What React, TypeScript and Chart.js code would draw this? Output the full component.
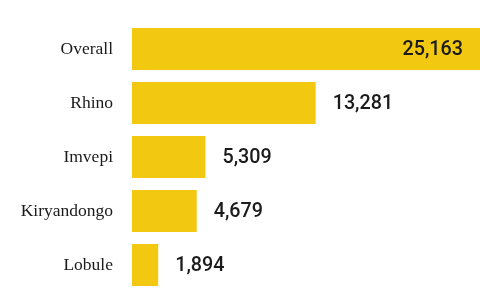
import React, { useEffect, useRef } from "react";
import { Chart, registerables } from "chart.js";

Chart.register(...registerables);

const categories = ["Overall", "Rhino", "Imvepi", "Kiryandongo", "Lobule"];
const values = [25163, 13281, 5309, 4679, 1894];
const barColor = "#F2C811";

const valueLabels = {
  id: "valueLabels",
  afterDatasetsDraw(chart: any) {
    const ctx = chart.ctx;
    const meta = chart.getDatasetMeta(0);
    const area = chart.chartArea;
    const sx = 0.94;
    ctx.save();
    ctx.font = "500 21px Roboto";
    ctx.fillStyle = "#1b1b1b";
    ctx.textBaseline = "middle";
    meta.data.forEach((bar: any, i: number) => {
      const txt = values[i].toLocaleString("en-US");
      const w = ctx.measureText(txt).width * sx;
      let x0: number;
      if (bar.x + 17 + w > area.right) {
        x0 = bar.x - 17 - w;
      } else {
        x0 = bar.x + 17;
      }
      ctx.save();
      ctx.translate(x0, bar.y + 1);
      ctx.scale(sx, 1);
      ctx.textAlign = "left";
      ctx.fillText(txt, 0, 0);
      ctx.restore();
    });
    ctx.restore();
  },
};

export default function App() {
  const ref = useRef<HTMLCanvasElement>(null);
  useEffect(() => {
    document.body.style.margin = "0";
    const chart = new Chart(ref.current!, {
      type: "bar",
      data: {
        labels: categories,
        datasets: [
          {
            data: values,
            backgroundColor: barColor,
            barPercentage: 0.78,
            categoryPercentage: 1,
          },
        ],
      },
      options: {
        indexAxis: "y",
        animation: false,
        responsive: false,
        layout: { padding: { top: 22, bottom: 9, left: 0, right: 0 } },
        plugins: { legend: { display: false }, tooltip: { enabled: false } },
        scales: {
          x: { display: false, min: 0, max: 25163 },
          y: {
            grid: { display: false, drawTicks: false },
            border: { display: false },
            ticks: {
              padding: 19,
              color: "#1b1b1b",
              font: { family: "'Liberation Serif', 'Times New Roman', serif", size: 17.5 },
            },
            afterFit(scale: any) {
              scale.width = 132;
              scale.paddingTop = 0;
              scale.paddingBottom = 0;
            },
          },
        },
      },
      plugins: [valueLabels],
    });
    return () => chart.destroy();
  }, []);
  return <canvas ref={ref} width={480} height={301} style={{ display: "block" }} />;
}
